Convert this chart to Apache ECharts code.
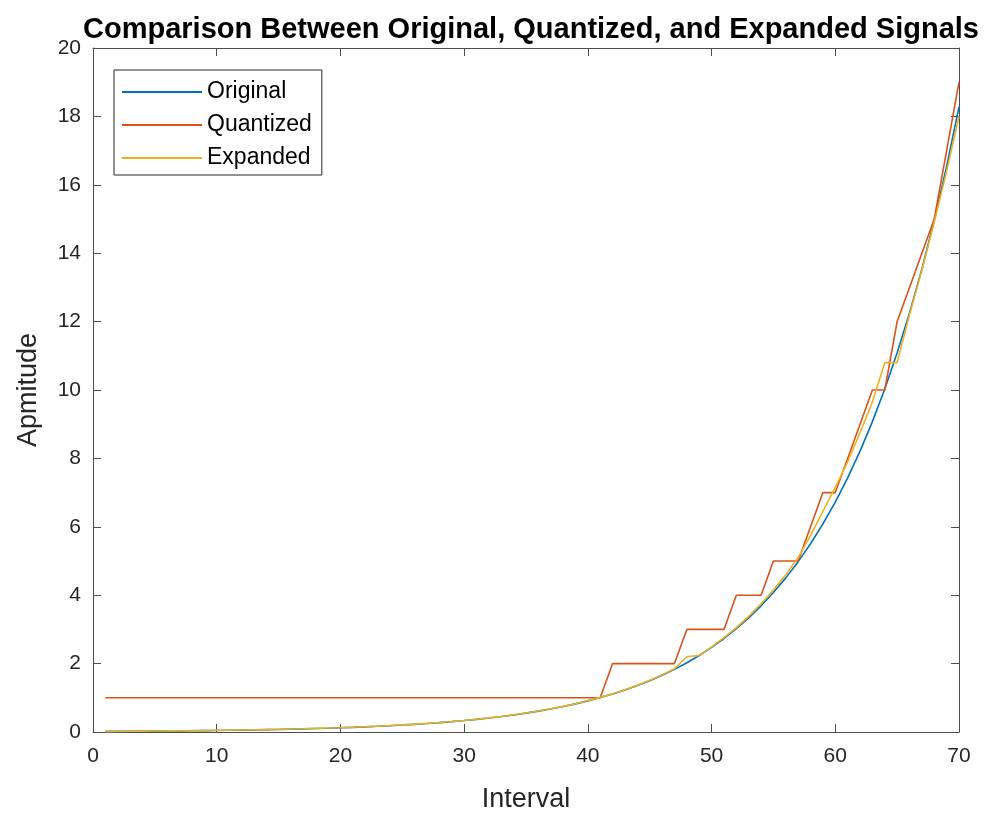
<!DOCTYPE html>
<html>
<head>
<meta charset="utf-8">
<script src="https://cdn.jsdelivr.net/npm/echarts@6/dist/echarts.min.js"></script>
<style>html,body{margin:0;padding:0;background:#fff}#c{width:984px;height:819px}</style>
</head>
<body>
<div id="c"></div>
<script>
const intervals = [1,2,3,4,5,6,7,8,9,10,11,12,13,14,15,16,17,18,19,20,21,22,23,24,25,26,27,28,29,30,31,32,33,34,35,36,37,38,39,40,41,42,43,44,45,46,47,48,49,50,51,52,53,54,55,56,57,58,59,60,61,62,63,64,65,66,67,68,69,70];
const original = [0.018,0.020,0.022,0.025,0.027,0.030,0.034,0.037,0.041,0.045,0.050,0.055,0.061,0.068,0.075,0.083,0.091,0.101,0.111,0.123,0.136,0.150,0.166,0.184,0.203,0.224,0.248,0.274,0.303,0.335,0.370,0.409,0.452,0.499,0.552,0.610,0.674,0.745,0.823,0.910,1.006,1.111,1.228,1.358,1.500,1.658,1.832,2.025,2.238,2.474,2.734,3.021,3.339,3.690,4.078,4.507,4.981,5.505,6.084,6.724,7.431,8.212,9.076,10.03,11.09,12.25,13.54,14.96,16.54,18.28];
const quantized = [1,1,1,1,1,1,1,1,1,1,1,1,1,1,1,1,1,1,1,1,1,1,1,1,1,1,1,1,1,1,1,1,1,1,1,1,1,1,1,1,1,2,2,2,2,2,2,3,3,3,3,4,4,4,5,5,5,6,7,7,8,9,10,10,12,13,14,15,17,19];
const expanded = [0.010,0.015,0.020,0.025,0.030,0.032,0.035,0.040,0.045,0.050,0.052,0.058,0.065,0.070,0.078,0.088,0.095,0.105,0.115,0.125,0.140,0.155,0.170,0.188,0.208,0.230,0.252,0.278,0.306,0.338,0.372,0.412,0.455,0.502,0.556,0.614,0.678,0.750,0.828,0.915,1.012,1.118,1.235,1.365,1.510,1.670,1.850,2.200,2.240,2.490,2.760,3.050,3.380,3.750,4.150,4.600,5.100,5.750,6.450,7.150,7.900,8.750,9.650,10.80,10.80,12.20,13.50,14.90,16.40,18.00];
const xTicks = {min:0, max:70, interval:10};
const yTicks = {min:0, max:20, interval:2};
const seriesNames = ['Original','Quantized','Expanded'];
const colors = ['#0072BD','#D95319','#EDB120'];

const pairs = v => intervals.map((x,i)=>[x, v[i]]);
const FONT = '"Liberation Sans", Arial, Helvetica, sans-serif';
const axisCol = '#262626';
const lineCol = '#4d4d4d';

const chart = echarts.init(document.getElementById('c'), null, {renderer:'canvas'});
const baseX = {type:'value', min:xTicks.min, max:xTicks.max, interval:xTicks.interval, splitLine:{show:false},
  axisLine:{show:true, onZero:false, lineStyle:{color:lineCol, width:1}},
  axisTick:{show:true, inside:true, length:8, lineStyle:{color:lineCol}}};
const baseY = {type:'value', min:yTicks.min, max:yTicks.max, interval:yTicks.interval, splitLine:{show:false},
  axisLine:{show:true, onZero:false, lineStyle:{color:lineCol, width:1}},
  axisTick:{show:true, inside:true, length:8, lineStyle:{color:lineCol}}};
chart.setOption({
  animation:false,
  backgroundColor:'#fff',
  title:{text:'Comparison Between Original, Quantized, and Expanded Signals', left:526, top:10, textAlign:'center',
    textStyle:{fontFamily:FONT, fontWeight:'bold', fontSize:29, color:'#000'}},
  grid:{left:93, right:25, top:48, bottom:87, containLabel:false},
  legend:{orient:'vertical', left:114, top:70, icon:'rect', itemWidth:80, itemHeight:2, itemGap:9,
    padding:[10,10,5,8], borderColor:'#262626', borderWidth:1, backgroundColor:'#fff',
    textStyle:{fontFamily:FONT, fontSize:23, color:'#000', lineHeight:24}, data:seriesNames},
  xAxis:[
    Object.assign({}, baseX, {position:'bottom', name:'Interval', nameLocation:'middle', nameGap:54,
      nameTextStyle:{fontFamily:FONT, fontSize:27, color:axisCol},
      axisLabel:{fontFamily:FONT, fontSize:21, color:axisCol, margin:14}}),
    Object.assign({}, baseX, {position:'top', axisLabel:{show:false}})
  ],
  yAxis:[
    Object.assign({}, baseY, {position:'left', name:'Apmitude', nameLocation:'middle', nameGap:51,
      nameTextStyle:{fontFamily:FONT, fontSize:27, color:axisCol},
      axisLabel:{fontFamily:FONT, fontSize:21, color:axisCol, margin:12}}),
    Object.assign({}, baseY, {position:'right', axisLabel:{show:false}})
  ],
  series:[original, quantized, expanded].map((v,i)=>({
    name:seriesNames[i], type:'line', data:pairs(v), showSymbol:false, symbol:'none',
    xAxisIndex:0, yAxisIndex:0, lineStyle:{color:colors[i], width:1.6}, itemStyle:{color:colors[i]}, z:2+i
  }))
});
</script>
</body>
</html>
